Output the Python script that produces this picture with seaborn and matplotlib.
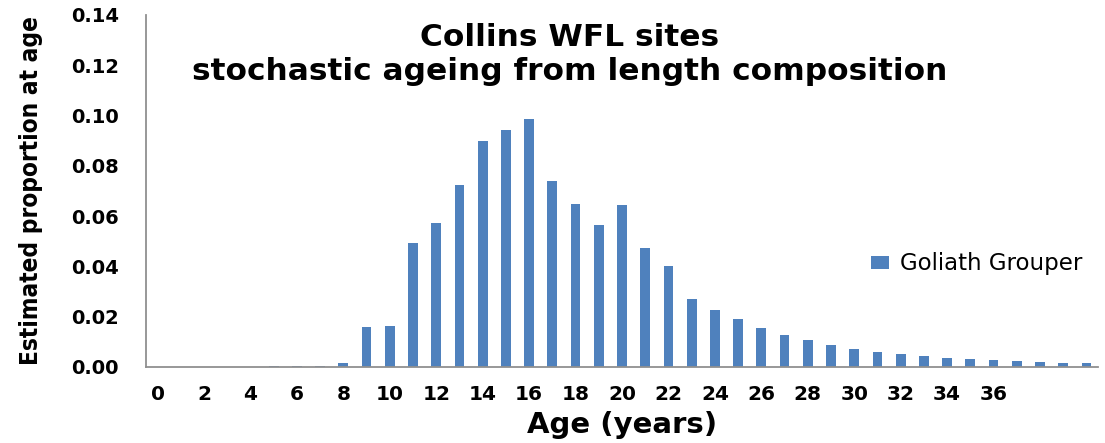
import matplotlib
matplotlib.use("Agg")
import matplotlib.pyplot as plt
from matplotlib.ticker import FixedLocator, FixedFormatter
import pandas as pd
import seaborn as sns

# proportion at age
ages = list(range(0, 41))
proportion = [0.0, 0.0, 0.0, 0.0, 0.0, 0.0003, 0.0004, 0.0003, 0.0017, 0.0158,
              0.0164, 0.0493, 0.0573, 0.0722, 0.0900, 0.0943, 0.0987, 0.0741, 0.0649, 0.0566,
              0.0645, 0.0472, 0.0400, 0.0270, 0.0225, 0.0190, 0.0156, 0.0128, 0.0107, 0.0088,
              0.0073, 0.0061, 0.0052, 0.0044, 0.0037, 0.0031, 0.0027, 0.0023, 0.0020, 0.0017,
              0.0015]
tick_labels = [str(a) if (a % 2 == 0 and a <= 36) else "" for a in ages]

df = pd.DataFrame({"age": ages, "proportion": proportion})

sns.set_style("white")
plt.rcParams["font.family"] = ["DejaVu Sans"]
plt.rcParams["text.color"] = "black"
plt.rcParams["xtick.color"] = "black"
plt.rcParams["ytick.color"] = "black"
plt.rcParams["axes.labelcolor"] = "black"

fig = plt.figure(figsize=(11.05, 4.43), dpi=100)
ax = fig.add_axes([146 / 1105, 1 - 367 / 443, 952 / 1105, 352 / 443])

sns.barplot(data=df, x="age", y="proportion", color="#4F81BD", saturation=1,
            width=0.42, linewidth=0, ax=ax, label="Goliath Grouper")

ax.set_xlim(-0.5, len(ages) - 0.5)
ax.set_ylim(0, 0.14)
ax.set_yticks([0.0, 0.02, 0.04, 0.06, 0.08, 0.10, 0.12, 0.14])
ax.set_yticklabels([f"{v:.2f}" for v in ax.get_yticks()], fontsize=14, fontweight="bold")

# excel-style ticks between categories, labels on the centres
ax.xaxis.set_major_locator(FixedLocator([a - 0.5 for a in ages] + [ages[-1] + 0.5]))
ax.xaxis.set_major_formatter(FixedFormatter([""] * (len(ages) + 1)))
ax.xaxis.set_minor_locator(FixedLocator(ages))
ax.xaxis.set_minor_formatter(FixedFormatter(tick_labels))
ax.tick_params(axis="x", which="major", length=5, width=1.2, color="#909090", direction="out")
ax.tick_params(axis="x", which="minor", length=0, pad=13, labelsize=14.5)
for t in ax.get_xticklabels(minor=True):
    t.set_fontweight("bold")
ax.tick_params(axis="y", length=6.5, width=1.2, color="#909090", direction="out", pad=13)

for s in ["top", "right"]:
    ax.spines[s].set_visible(False)
for s in ["left", "bottom"]:
    ax.spines[s].set_color("#909090")
    ax.spines[s].set_linewidth(1.3)

ax.set_xlabel("Age (years)", fontsize=21, fontweight="bold", labelpad=5)
ax.set_ylabel("Estimated proportion at age", fontsize=17.5, fontweight="bold",
              fontstretch="condensed", labelpad=20)

ax.text(0.445, 0.888, "Collins WFL sites\nstochastic ageing from length composition",
        transform=ax.transAxes, ha="center", va="center", fontsize=22.5,
        fontweight="bold", linespacing=1.2)

ax.legend(loc="center left", bbox_to_anchor=(0.74, 0.293), frameon=False,
          fontsize=16.5, handlelength=0.8, handleheight=0.5, handletextpad=0.45)

fig.savefig("out.png", dpi=100)
